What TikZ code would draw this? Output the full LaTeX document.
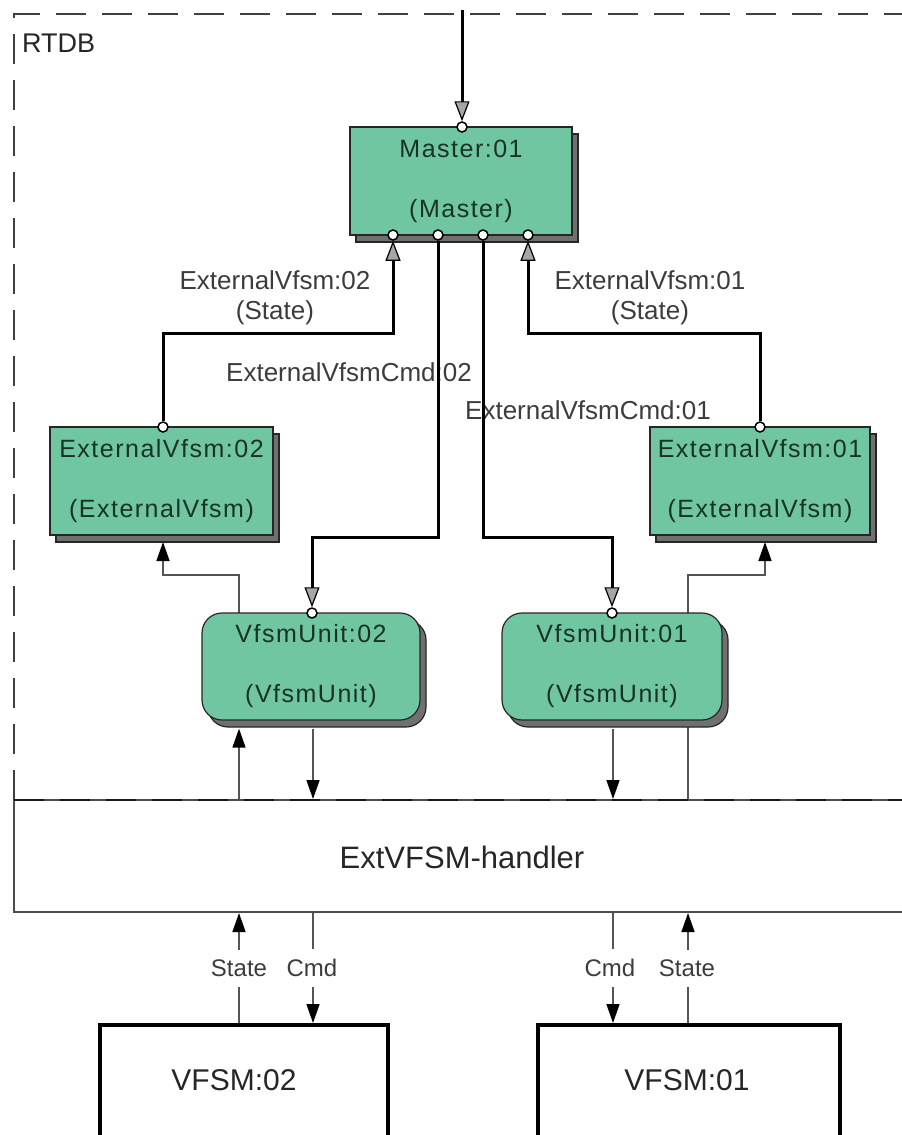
\documentclass[tikz,border=0pt]{standalone}
\usepackage{fontspec}
\setmainfont{Liberation Sans}
\usetikzlibrary{arrows.meta,shadows,calc}
\definecolor{boxgreen}{RGB}{112,198,160}
\definecolor{boxtext}{RGB}{25,50,38}
\definecolor{shadowgray}{RGB}{112,112,112}
\definecolor{lblgray}{RGB}{60,60,60}
\definecolor{thingray}{RGB}{85,85,85}
\begin{document}
\begin{tikzpicture}[x=1pt,y=-1pt,
  greenbox/.style={draw=black!85, line width=1.2pt, fill=boxgreen, text=boxtext, align=center, inner sep=0pt,
     font=\fontsize{25}{60}\selectfont\addfontfeature{LetterSpace=6},
     copy shadow={shadow xshift=6pt, shadow yshift=-7pt, fill=shadowgray, draw=black!85}},
  port/.style={circle, draw=black, fill=white, line width=1.5pt, inner sep=0pt, minimum size=10pt},
  thickconn/.style={draw=black, line width=3pt,
     -{Triangle[length=20pt,width=15pt,fill=gray!70,line width=1.2pt]}},
  thinconn/.style={draw=thingray, line width=1.5pt,
     -{Triangle[length=19pt,width=13pt,color=black]}},
  lbl/.style={font=\fontsize{26}{30}\selectfont, text=lblgray, align=center, inner sep=0pt},
  smalllbl/.style={font=\fontsize{24}{30}\selectfont, text=lblgray, fill=white, inner xsep=2pt, inner ysep=10pt},
  bigbox/.style={draw=black, line width=4pt, fill=white, inner sep=0pt},
  bigtext/.style={font=\fontsize{30}{36}\selectfont, text=black!85, inner sep=0pt}
]
\useasboundingbox (0,0) rectangle (902,1135);
\clip (0,0) rectangle (902,1135);

% RTDB frame and handler
\node[draw=black!70, line width=2pt, minimum width=920pt, minimum height=112pt, inner sep=0pt] (handler) at (474,856) {};
\draw[black!75, line width=2pt, dash pattern=on 30pt off 16pt] (14,800) -- (14,14) -- (940,14);
\draw[black!90, line width=2pt, dash pattern=on 30pt off 16pt] (14,800) -- (940,800);
\node[font=\fontsize{27}{32}\selectfont, text=black!85, anchor=west, inner sep=0pt] (rtdb) at (22,43) {RTDB};
\node[font=\fontsize{31}{36}\selectfont, text=black!85, inner sep=0pt] (htext) at (462,857) {ExtVFSM-handler};

% labels of the thick connectors
\node[lbl] (l2) at (275,298) {ExternalVfsm:02\\(State)};
\node[lbl] (l1) at (650,298) {ExternalVfsm:01\\(State)};
\node[lbl] (lc2) at (349,372) {ExternalVfsmCmd:02};
\node[lbl] (lc1) at (588,410) {ExternalVfsmCmd:01};

% thin state lines passing behind the units
\coordinate (e2in) at (163,542);
\coordinate (e1in) at (765,542);
\draw[thinconn] (239,613) -- (239,575) -| (e2in);
\draw[thinconn] (handler.north -| 688,0) -- (688,575) -| (e1in);

% boxes
\node[greenbox, minimum width=222pt, minimum height=108pt] (master) at (461,181) {Master:01\\(Master)};
\node[greenbox, minimum width=223pt, minimum height=108pt] (ext2) at (161.5,481) {ExternalVfsm:02\\(ExternalVfsm)};
\node[greenbox, minimum width=220pt, minimum height=108pt] (ext1) at (760,481) {ExternalVfsm:01\\(ExternalVfsm)};
\node[greenbox, rounded corners=20pt, minimum width=218pt, minimum height=107pt] (vu2) at (311,666.5) {VfsmUnit:02\\(VfsmUnit)};
\node[greenbox, rounded corners=20pt, minimum width=220pt, minimum height=107pt] (vu1) at (612,666.5) {VfsmUnit:01\\(VfsmUnit)};

% thin arrows between units and handler
\draw[thinconn, shorten >=8pt] (handler.north -| 239,0) -- (vu2.south -| 239,0);
\draw[thinconn, shorten <=8pt] (vu2.south -| 313,0) -- (handler.north -| 313,0);
\draw[thinconn, shorten <=8pt] (vu1.south -| 613,0) -- (handler.north -| 613,0);

% bottom VFSM boxes
\node[bigbox, minimum width=288pt, minimum height=160pt] (vfsm2) at (244,1105) {};
\node[bigbox, minimum width=302pt, minimum height=160pt] (vfsm1) at (689,1105) {};
\node[bigtext] (v2t) at (234,1080) {VFSM:02};
\node[bigtext] (v1t) at (687,1080) {VFSM:01};

\draw[thinconn] (vfsm2.north -| 239,0) -- (handler.south -| 239,0);
\draw[thinconn] (handler.south -| 313,0) -- (vfsm2.north -| 313,0);
\draw[thinconn] (handler.south -| 613,0) -- (vfsm1.north -| 613,0);
\draw[thinconn] (vfsm1.north -| 688,0) -- (handler.south -| 688,0);
\node[smalllbl] (s2) at (239,968) {State};
\node[smalllbl] (c2) at (312,968) {Cmd};
\node[smalllbl] (c1) at (610,968) {Cmd};
\node[smalllbl] (s1) at (687,968) {State};

% ports
\node[port] (mp0) at (462,127) {};
\node[port] (mp1) at (393,235) {};
\node[port] (mp2) at (438,235) {};
\node[port] (mp3) at (483,235) {};
\node[port] (mp4) at (528,235) {};
\node[port] (ep2) at (163,427) {};
\node[port] (ep1) at (760,427) {};
\node[port] (vp2) at (312,613) {};
\node[port] (vp1) at (612,613) {};

% thick connectors
\coordinate (intop) at (462,10);
\draw[thickconn] (intop) -- (mp0);
\draw[thickconn] (ep2) -- (ep2 |- 0,333) -| (mp1);
\draw[thickconn] (mp2) -- (mp2 |- 0,537) -| (vp2);
\draw[thickconn] (mp3) -- (mp3 |- 0,537) -| (vp1);
\draw[thickconn] (ep1) -- (ep1 |- 0,333) -| (mp4);
\end{tikzpicture}
\end{document}
